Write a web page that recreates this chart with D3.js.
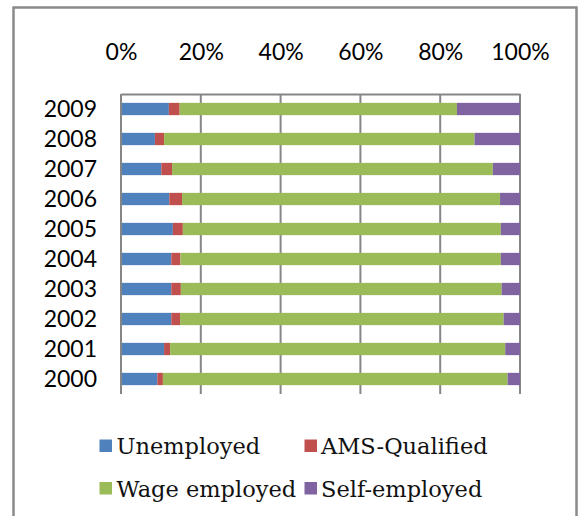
<!DOCTYPE html>
<html>
<head>
<meta charset="utf-8">
<script src="https://cdn.jsdelivr.net/npm/d3@7/dist/d3.min.js"></script>
<style>
  html, body { margin: 0; padding: 0; background: #fff; }
  svg { display: block; }
</style>
</head>
<body>
<svg id="chart" width="580" height="516"></svg>
<script>
// Share of graduates by employment status, per year (percent)
const years = ["2009", "2008", "2007", "2006", "2005", "2004", "2003", "2002", "2001", "2000"];
const unemployed    = [12.0,  8.5, 10.1, 12.1, 13.0, 12.6, 12.6, 12.6, 10.8,  9.1];
const amsQualified  = [ 2.7,  2.3,  2.7,  3.2,  2.5,  2.3,  2.4,  2.2,  1.5,  1.4];
const wageEmployed  = [69.5, 77.8, 80.4, 79.7, 79.7, 80.3, 80.4, 81.1, 84.0, 86.4];
const selfEmployed  = [15.8, 11.4,  6.8,  5.0,  4.8,  4.8,  4.6,  4.1,  3.7,  3.1];
const seriesNames   = ["Unemployed", "AMS-Qualified", "Wage employed", "Self-employed"];
const tickValues    = [0, 0.2, 0.4, 0.6, 0.8, 1.0];

const colors = ["#4F81BD", "#C0504D", "#9BBB59", "#8064A2"];
const seriesValues = [unemployed, amsQualified, wageEmployed, selfEmployed];

const rows = years.map((y, i) => {
  const r = { year: y };
  seriesNames.forEach((s, k) => { r[s] = seriesValues[k][i]; });
  return r;
});

const svg = d3.select("#chart");

// outer chart frame (open at the bottom edge)
svg.append("path")
  .attr("d", "M13.5,516 L13.5,7.5 L576.5,7.5 L576.5,516")
  .attr("fill", "none")
  .attr("stroke", "#8a8a8a")
  .attr("stroke-width", 2.5);

const plot = { left: 121, right: 520, top: 94, bottom: 394 };

const x = d3.scaleLinear().domain([0, 1]).range([plot.left, plot.right]);
const y = d3.scaleBand().domain(years).range([plot.top, plot.bottom]).paddingInner(0.59).paddingOuter(0.295);

const stack = d3.stack().keys(seriesNames).offset(d3.stackOffsetExpand);
const stacked = stack(rows);

// vertical gridlines
svg.append("g")
  .selectAll("line")
  .data(tickValues)
  .join("line")
  .attr("x1", d => x(d)).attr("x2", d => x(d))
  .attr("y1", plot.top).attr("y2", plot.bottom)
  .attr("stroke", "#868686")
  .attr("stroke-width", 2);

// bars
svg.append("g")
  .selectAll("g")
  .data(stacked)
  .join("g")
  .attr("fill", (d, i) => colors[i])
  .selectAll("rect")
  .data(d => d)
  .join("rect")
  .attr("x", d => x(d[0]))
  .attr("width", d => x(d[1]) - x(d[0]))
  .attr("y", d => y(d.data.year))
  .attr("height", y.bandwidth());

// top value axis
const xAxis = d3.axisTop(x)
  .tickValues(tickValues)
  .tickFormat(d3.format(".0%"))
  .tickSize(0)
  .tickPadding(0);

const gx = svg.append("g").attr("transform", `translate(0,${plot.top})`).call(xAxis);
gx.select(".domain").attr("stroke", "#868686").attr("stroke-width", 2);
gx.selectAll("text")
  .attr("y", 60 - plot.top)
  .attr("dy", 0)
  .attr("fill", "#000")
  .style("font-family", "Lato, 'Open Sans', sans-serif")
  .style("font-size", "23px");

// left category axis
const yAxis = d3.axisLeft(y).tickSize(0).tickPadding(0);
const gy = svg.append("g").attr("transform", `translate(${plot.left},0)`).call(yAxis);
gy.select(".domain").attr("stroke", "#868686").attr("stroke-width", 2)
  .attr("d", `M0,${plot.top}V${plot.bottom}`);
gy.selectAll("text")
  .attr("x", 97 - plot.left)
  .attr("dy", "0.36em")
  .attr("fill", "#000")
  .style("font-family", "Lato, 'Open Sans', sans-serif")
  .style("font-size", "23px");

// legend
const legendPos = [
  { sx: 99.5, tx: 116.5, y: 445.5 },
  { sx: 304.5, tx: 321, y: 445.5 },
  { sx: 99.5, tx: 116.5, y: 488 },
  { sx: 304.5, tx: 321, y: 488 }
];
const legend = svg.append("g")
  .selectAll("g")
  .data(seriesNames)
  .join("g");
legend.append("rect")
  .attr("x", (d, i) => legendPos[i].sx)
  .attr("y", (d, i) => legendPos[i].y - 6)
  .attr("width", 12.5).attr("height", 12.5)
  .attr("fill", (d, i) => colors[i]);
legend.append("text")
  .attr("x", (d, i) => legendPos[i].tx)
  .attr("y", (d, i) => legendPos[i].y + 8.5)
  .attr("fill", "#111")
  .style("font-family", "'DejaVu Serif', serif")
  .style("font-size", "22.5px")
  .text(d => d);
</script>
</body>
</html>
